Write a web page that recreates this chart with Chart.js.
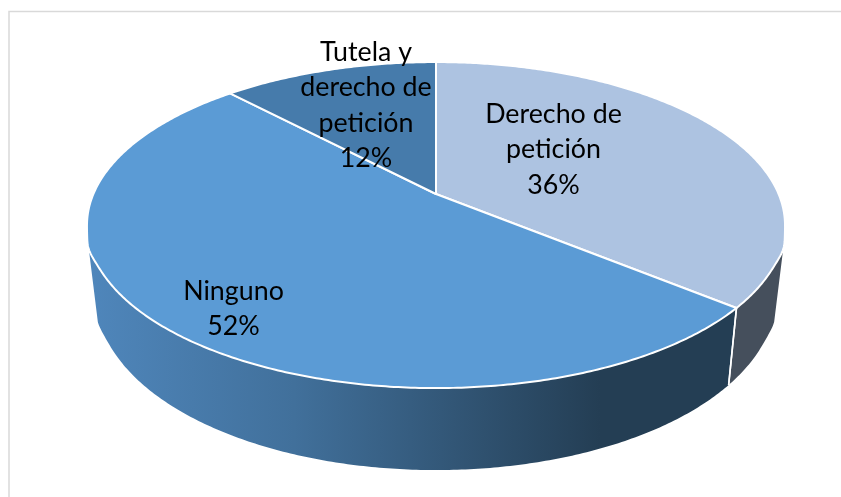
<!DOCTYPE html>
<html><head><meta charset="utf-8">
<style>html,body{margin:0;padding:0;background:#fff;overflow:hidden}canvas{display:block}</style>
<script src="https://cdn.jsdelivr.net/npm/chart.js@4/dist/chart.umd.js"></script>
</head><body>
<canvas id="c" width="841" height="497"></canvas>
<script>
const categories = ['Derecho de petición', 'Ninguno', 'Tutela y derecho de petición'];
const values = [36, 52, 12];
const topColors = ['#adc3e1', '#5b9bd5', '#467bab'];
const labelLines = [['Derecho de', 'petición'], ['Ninguno'], ['Tutela y', 'derecho de', 'petición']];

// Perspective view of the disc: the unit circle maps to the screen around the pie centre.
const view = {cx: 436, cy: 194, A: 342.6, B: 157.1, k: -0.1905, shrink: 0.974, d0: 68.2, d1: 13.8, bulge: 0.006};
const labelPlace = [{x: 553.5, y: 114}, {x: 233.5, y: 291}, {x: 366, y: 52}];
const lineGap = 35.5;
const sideFrontLimit = 0.33;

function rim(a) {
  const u = Math.cos(a), v = Math.sin(a), w = 1 + view.k * v;
  const b = 1 + view.bulge * Math.exp(-Math.pow((v - 0.33) / 0.07, 2));
  return {x: view.cx + view.A * u * b / w, y: view.cy + view.B * v / w, v};
}
function base(a) {
  const p = rim(a);
  return {x: view.cx + (p.x - view.cx) * view.shrink, y: p.y + view.d0 + view.d1 * p.v};
}
function steps(a0, a1) {
  const n = Math.max(2, Math.ceil(Math.abs(a1 - a0) / 0.01)), out = [];
  for (let i = 0; i <= n; i++) out.push(a0 + (a1 - a0) * i / n);
  return out;
}

const pie3d = {
  id: 'pie3d',
  beforeDraw(chart) {
    const c = chart.ctx;
    c.save();
    c.strokeStyle = '#d9d9d9';
    c.lineWidth = 1.5;
    c.beginPath();
    c.moveTo(9, 497);
    c.lineTo(9, 11.5);
    c.lineTo(841, 11.5);
    c.stroke();
    c.restore();
  },
  beforeDatasetDraw(chart) {
    const c = chart.ctx, arcs = chart.getDatasetMeta(0).data;
    const lo = Math.asin(sideFrontLimit), hi = Math.PI - lo;
    c.save();
    c.lineJoin = 'round';
    // walls
    const grad = c.createLinearGradient(90, 0, 600, 0);
    grad.addColorStop(0, '#4f86bb');
    grad.addColorStop(0.4, '#41709b');
    grad.addColorStop(1, '#243e54');
    arcs.forEach((arc, i) => {
      const s = Math.max(arc.startAngle, lo), e = Math.min(arc.endAngle, hi);
      if (e <= s) return;
      const pts = steps(s, e);
      c.beginPath();
      pts.forEach((a, j) => { const p = rim(a); j ? c.lineTo(p.x, p.y) : c.moveTo(p.x, p.y); });
      pts.slice().reverse().forEach(a => { const p = base(a); c.lineTo(p.x, p.y); });
      c.closePath();
      c.fillStyle = i === 0 ? '#454f5c' : grad;
      c.fill();
    });
    // wall divider
    arcs.forEach(arc => {
      [arc.startAngle, arc.endAngle].forEach(a => {
        if (a > lo && a < hi) {
          const p = rim(a), q = base(a);
          c.beginPath(); c.moveTo(p.x, p.y); c.lineTo(q.x, q.y);
          c.strokeStyle = '#ffffff'; c.lineWidth = 1.6; c.stroke();
        }
      });
    });
    // top faces
    arcs.forEach((arc, i) => {
      c.beginPath();
      c.moveTo(view.cx, view.cy);
      steps(arc.startAngle, arc.endAngle).forEach(a => { const p = rim(a); c.lineTo(p.x, p.y); });
      c.closePath();
      c.fillStyle = topColors[i];
      c.fill();
      c.strokeStyle = '#ffffff';
      c.lineWidth = 2;
      c.stroke();
    });
    c.restore();
    return false;
  },
  afterDraw(chart) {
    const c = chart.ctx, total = values.reduce((a, b) => a + b, 0);
    c.save();
    c.fillStyle = '#000000';
    c.font = '26.8px Lato';
    c.textAlign = 'center';
    c.textBaseline = 'middle';
    labelLines.forEach((lines, i) => {
      const all = lines.concat(Math.round(values[i] / total * 100) + '%');
      all.forEach((t, j) => c.fillText(t, labelPlace[i].x, labelPlace[i].y + j * lineGap));
    });
    c.restore();
  }
};

new Chart(document.getElementById('c'), {
  type: 'pie',
  data: {labels: categories, datasets: [{data: values, backgroundColor: topColors}]},
  options: {
    responsive: false,
    animation: false,
    plugins: {legend: {display: false}, tooltip: {enabled: false}}
  },
  plugins: [pie3d]
});
</script>
</body></html>
